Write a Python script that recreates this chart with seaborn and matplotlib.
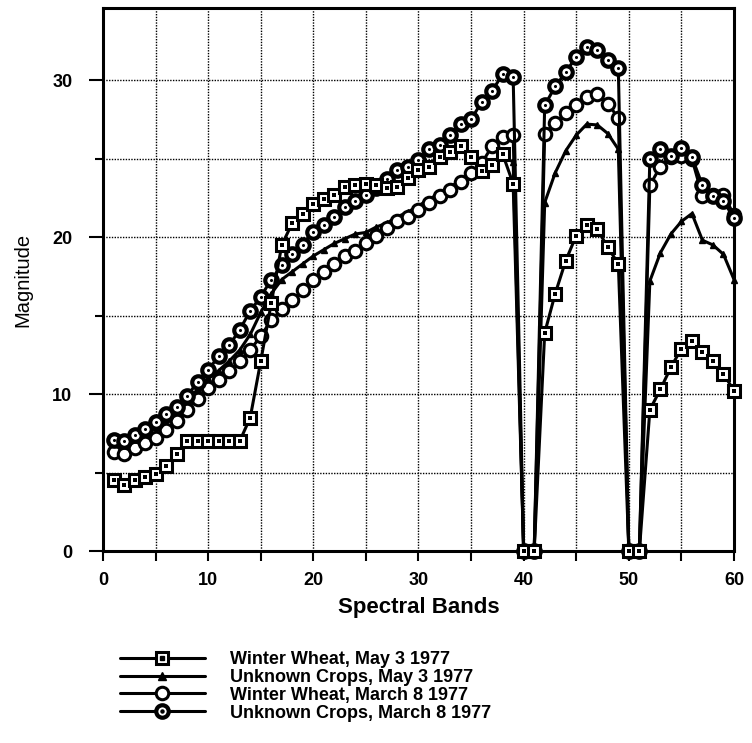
import numpy as np
import pandas as pd
import matplotlib
matplotlib.use("Agg")
import matplotlib.pyplot as plt
from matplotlib.lines import Line2D
from matplotlib.legend_handler import HandlerTuple
from matplotlib.ticker import MultipleLocator
import seaborn as sns

bands = list(range(1, 61))

winter_wheat_may = [
    4.5, 4.2, 4.5, 4.7, 4.9, 5.4, 6.2, 7.0, 7.0, 7.0,
    7.0, 7.0, 7.0, 8.5, 12.1, 15.8, 19.5, 20.9, 21.5, 22.1,
    22.4, 22.7, 23.2, 23.3, 23.4, 23.3, 23.1, 23.2, 23.75, 24.3,
    24.5, 25.1, 25.4, 25.8, 25.1, 24.2, 24.6, 25.3, 23.4, 0.0,
    0.0, 13.9, 16.4, 18.5, 20.1, 20.8, 20.5, 19.35, 18.3, 0.0,
    0.0, 9.0, 10.3, 11.7, 12.9, 13.4, 12.65, 12.1, 11.3, 10.2,
]
unknown_may = [
    6.8, 6.7, 7.1, 7.5, 7.9, 8.4, 9.0, 9.6, 10.3, 11.0,
    11.5, 12.1, 12.8, 13.8, 15.2, 16.4, 17.3, 17.8, 18.3, 18.8,
    19.2, 19.6, 19.9, 20.2, 20.3, 20.65, 20.9, 21.3, 21.6, 22.0,
    22.4, 22.8, 23.2, 23.6, 24.0, 24.4, 24.8, 25.1, 24.8, 0.0,
    0.0, 22.2, 24.1, 25.5, 26.5, 27.2, 27.15, 26.6, 25.6, 0.0,
    0.0, 17.2, 19.0, 20.2, 21.0, 21.5, 19.8, 19.5, 18.9, 17.3,
]
winter_wheat_mar = [
    6.3, 6.2, 6.55, 6.9, 7.2, 7.7, 8.3, 9.0, 9.7, 10.4,
    10.9, 11.5, 12.1, 12.8, 13.7, 14.7, 15.4, 16.0, 16.6, 17.3,
    17.8, 18.3, 18.8, 19.1, 19.6, 20.1, 20.55, 21.0, 21.3, 21.7,
    22.2, 22.6, 23.0, 23.5, 24.1, 24.7, 25.8, 26.4, 26.5, 0.0,
    0.0, 26.6, 27.3, 27.9, 28.4, 28.9, 29.1, 28.5, 27.6, 0.0,
    0.0, 23.3, 24.5, 25.1, 25.2, 25.0, 22.6, 22.7, 22.7, 21.4,
]
unknown_mar = [
    7.1, 7.0, 7.4, 7.8, 8.2, 8.7, 9.2, 9.85, 10.8, 11.55,
    12.4, 13.1, 14.1, 15.3, 16.2, 17.3, 18.2, 18.9, 19.5, 20.3,
    20.8, 21.3, 21.9, 22.3, 22.7, 23.1, 23.7, 24.3, 24.5, 24.9,
    25.6, 25.9, 26.5, 27.2, 27.5, 28.6, 29.3, 30.4, 30.2, 0.0,
    0.0, 28.4, 29.6, 30.5, 31.5, 32.1, 31.9, 31.3, 30.75, 0.0,
    0.0, 25.0, 25.6, 25.2, 25.7, 25.1, 23.3, 22.6, 22.3, 21.2,
]

labels = [
    "Winter Wheat, May 3 1977",
    "Unknown Crops, May 3 1977",
    "Winter Wheat, March 8 1977",
    "Unknown Crops, March 8 1977",
]
x_ticks = [0, 10, 20, 30, 40, 50, 60]
y_ticks = [0, 10, 20, 30]

df = pd.DataFrame({
    "band": bands,
    "ww_may": winter_wheat_may,
    "uc_may": unknown_may,
    "ww_mar": winter_wheat_mar,
    "uc_mar": unknown_mar,
})

sns.set_style("ticks")
plt.rcParams["font.family"] = ["Liberation Sans", "DejaVu Sans"]
for k in ["text.color", "axes.labelcolor", "xtick.color", "ytick.color", "axes.edgecolor"]:
    plt.rcParams[k] = "black"

fig = plt.figure(figsize=(7.52, 7.43), dpi=100)
ax = fig.add_axes([103 / 752, 1 - 551 / 743, (734 - 103) / 752, (551 - 8) / 743])

lw = 2.2
common = dict(ax=ax, color="black", linewidth=lw, clip_on=False)

sns.lineplot(data=df, x="band", y="uc_may", marker="^", markersize=5,
             markerfacecolor="black", markeredgecolor="black", markeredgewidth=1,
             zorder=3, **common)
sns.lineplot(data=df, x="band", y="ww_mar", marker="o", markersize=9,
             markerfacecolor="white", markeredgecolor="black", markeredgewidth=2.2,
             zorder=4, **common)
sns.lineplot(data=df, x="band", y="uc_mar", marker="o", markersize=9,
             markerfacecolor="white", markeredgecolor="black", markeredgewidth=3.0,
             zorder=5, **common)
sns.scatterplot(data=df, x="band", y="uc_mar", ax=ax, marker="o", s=5,
                color="black", linewidth=0, zorder=6, clip_on=False)
sns.lineplot(data=df, x="band", y="ww_may", marker="s", markersize=9,
             markerfacecolor="white", markeredgecolor="black", markeredgewidth=2.2,
             zorder=7, **common)
sns.scatterplot(data=df, x="band", y="ww_may", ax=ax, marker="s", s=5,
                color="black", linewidth=0, zorder=8, clip_on=False)

ax.set_xlim(0, 60)
ax.set_ylim(0, 34.6)
ax.set_xticks(x_ticks)
ax.set_yticks(y_ticks)
ax.xaxis.set_minor_locator(MultipleLocator(5))
ax.yaxis.set_minor_locator(MultipleLocator(5))
ax.grid(which="both", color="black", linestyle=(0, (1, 1)), linewidth=1.0, zorder=0)
ax.set_axisbelow(True)
for s in ax.spines.values():
    s.set_linewidth(2.2)
    s.set_color("black")

ax.tick_params(axis="x", which="major", length=7, width=1.5, pad=8, labelsize=13)
ax.tick_params(axis="x", which="minor", length=7, width=1.5)
ax.tick_params(axis="y", which="major", length=10, width=1.5, pad=12, labelsize=13)
ax.tick_params(axis="y", which="minor", length=6, width=1.5)
for t in ax.get_xticklabels() + ax.get_yticklabels():
    t.set_fontweight("bold")

ax.set_xlabel("Spectral Bands", fontsize=16, fontweight="bold", labelpad=6)
ax.set_ylabel("Magnitude", fontsize=14.5, labelpad=14)

h1 = (Line2D([], [], color="black", lw=lw, marker="s", ms=9, mfc="white", mec="black", mew=2.2),
      Line2D([], [], color="black", lw=0, marker="s", ms=2.2))
h2 = Line2D([], [], color="black", lw=lw, marker="^", ms=6, mfc="black", mec="black")
h3 = Line2D([], [], color="black", lw=lw, marker="o", ms=9, mfc="white", mec="black", mew=2.2)
h4 = (Line2D([], [], color="black", lw=lw, marker="o", ms=9, mfc="white", mec="black", mew=3.0),
      Line2D([], [], color="black", lw=0, marker="o", ms=2.2))

fig.legend([h1, h2, h3, h4], labels, loc="upper left",
           bbox_to_anchor=(120 / 752, 1 - 651 / 743), frameon=False,
           prop={"weight": "bold", "size": 13}, handlelength=4.7,
           handletextpad=1.4, labelspacing=0.05, borderaxespad=0, borderpad=0,
           handler_map={tuple: HandlerTuple(ndivide=1)})

fig.savefig("out.png", dpi=100)
